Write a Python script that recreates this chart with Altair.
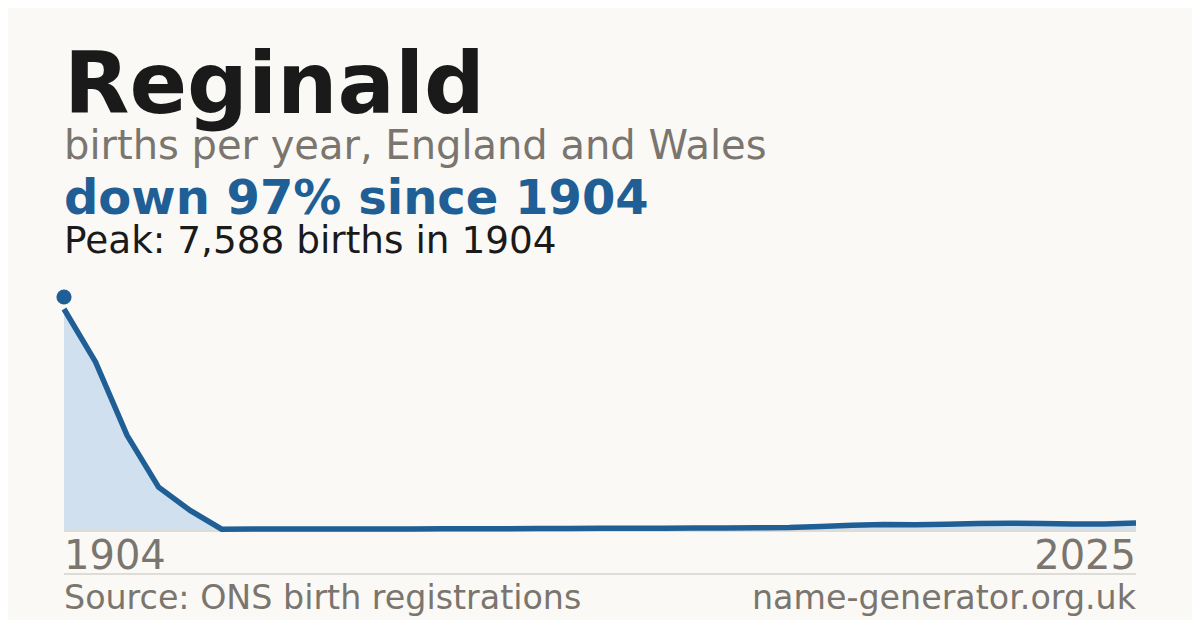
import altair as alt
import pandas as pd

# ---- data ----
years = [1904, 1914, 1924, 1934, 1944, 1954, 1964, 1974, 1984, 1994,
         2001, 2002, 2003, 2004, 2005, 2006, 2007, 2008, 2009, 2010,
         2011, 2012, 2013, 2014, 2015, 2016, 2017, 2018, 2019, 2020,
         2021, 2022, 2023, 2024, 2025]
births = [7588, 5780, 3270, 1500, 702, 62, 68, 68, 68, 68,
          68, 68, 75, 75, 80, 86, 86, 92, 92, 96,
          100, 103, 113, 120, 154, 195, 223, 212, 230, 260,
          264, 260, 240, 243, 270]

peak_year = ["1904"]
peak_births = [7588]

title_text = ["Reginald"]
subtitle_text = ["births per year, England and Wales"]
change_text = ["down 97% since 1904"]
peak_text = ["Peak: 7,588 births in 1904"]
first_label = ["1904"]
last_label = ["2025"]
source_text = ["Source: ONS birth registrations"]
site_text = ["name-generator.org.uk"]

# ---- styling ----
BLUE = "#1f5f96"
AREA = "#d0e0ef"
DARK = "#1a1a1a"
GREY = "#7a756e"
RULE = "#dedbd5"
BG = "#faf9f5"
FONT = "DejaVu Sans"
W, H = 1072, 222

df = pd.DataFrame({"year": [str(y) for y in years], "births": births})
peak_df = pd.DataFrame({"year": peak_year, "births": peak_births})

xenc = alt.X("year:O", scale=alt.Scale(type="point", padding=0), axis=None, sort=None)
yenc = alt.Y("births:Q", scale=alt.Scale(domain=[0, 7588], nice=False, zero=True), axis=None)

base = alt.Chart(df).encode(x=xenc, y=yenc)
area = base.mark_area(color=AREA, opacity=1)
line = base.mark_line(color=BLUE, strokeWidth=5.5)
peak = alt.Chart(peak_df).mark_point(filled=True, size=230, color=BLUE, opacity=1, yOffset=-12).encode(x=xenc, y=yenc)

baseline_rule = alt.Chart(df).mark_rule(color=RULE, strokeWidth=1).encode(
    x=alt.value(0), x2=alt.value(W), y=alt.value(H))
sep_rule = alt.Chart(df).mark_rule(color=RULE, strokeWidth=1).encode(
    x=alt.value(0), x2=alt.value(W), y=alt.value(265))


def txt(lines, x, y, size, color, weight="normal", align="left"):
    return alt.Chart(pd.DataFrame({"t": lines})).mark_text(
        align=align, baseline="alphabetic", font=FONT, fontSize=size,
        fontWeight=weight, color=color
    ).encode(text="t:N", x=alt.value(x), y=alt.value(y))


texts = [
    txt(title_text, 0, -196, 85, DARK, "bold"),
    txt(subtitle_text, 0, -150, 40, GREY),
    txt(change_text, 0, -95, 48, BLUE, "bold"),
    txt(peak_text, 0, -56, 37.4, DARK),
    txt(first_label, 0, 260, 40, GREY),
    txt(last_label, W, 260, 40, GREY, align="right"),
    txt(source_text, 0, 300, 33.3, GREY),
    txt(site_text, W, 300, 33.3, GREY, align="right"),
]

chart = alt.layer(area, baseline_rule, line, peak, sep_rule, *texts).properties(
    width=W, height=H,
    padding={"left": 56, "top": 301, "right": 56, "bottom": 89},
    autosize=alt.AutoSizeParams(type="none"),
    background=BG,
).configure_view(stroke=None)

chart.save("out.html", embed_options={"renderer": "svg", "actions": False})
